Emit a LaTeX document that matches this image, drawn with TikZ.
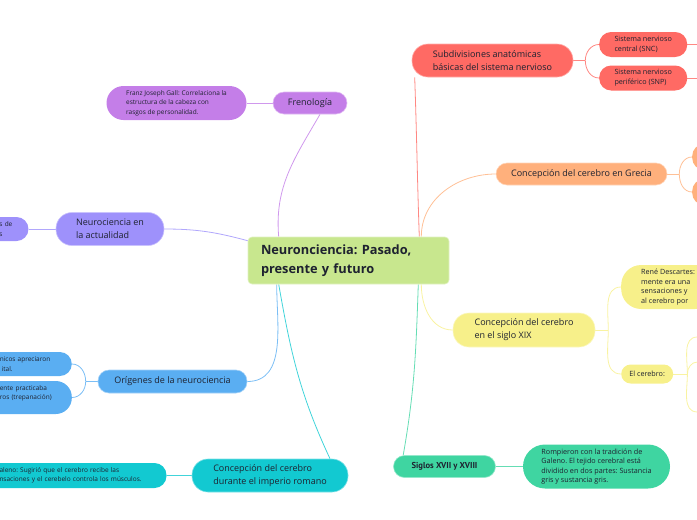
\documentclass[tikz,border=0pt]{standalone}
\usepackage{fontspec}
\setmainfont{Open Sans}
\newfontfamily\sigfont{PT Sans}
\usetikzlibrary{positioning, backgrounds}

\definecolor{ink}{HTML}{1E2230}
\definecolor{ctrgreen}{HTML}{C8E78E}
\definecolor{purp}{HTML}{C47EE8}
\definecolor{peri}{HTML}{9E91FB}
\definecolor{skyblue}{HTML}{5AAEF2}
\definecolor{romcyan}{HTML}{12C9D1}
\definecolor{coral}{HTML}{FF6A64}
\definecolor{peach}{HTML}{FFB07C}
\definecolor{lemon}{HTML}{F7F08A}
\definecolor{mint}{HTML}{3FD5A1}

\begin{document}
\begin{tikzpicture}[x=1pt, y=1pt,
  topic/.style={fill=#1, draw=#1!55!white, line width=0.6pt, rounded corners=11pt, inner sep=0pt,
    minimum height=22pt, align=left, text=ink, font=\fontsize{9}{12.8}\selectfont\frenchspacing},
  topictwo/.style={topic=#1, rounded corners=16pt, minimum height=33pt},
  leaf/.style={fill=#1, rounded corners=12pt, inner sep=0pt, align=left, text=ink,
    font=\fontsize{6.5}{9.5}\selectfont\frenchspacing},
  bigleaf/.style={leaf=#1, font=\fontsize{7.2}{9.6}\selectfont\frenchspacing},
  link/.style={draw=#1!80!white, line width=0.8pt}
]
  \useasboundingbox (0,-520) rectangle (697,0);

  \node[topic=ctrgreen, rounded corners=4pt, minimum width=201pt, minimum height=47pt,
    inner xsep=13pt, text width=175pt, font=\fontsize{12.8}{19}\selectfont\bfseries\frenchspacing] (ctr) at (348.5,-260.5)
    {Neuronciencia: Pasado,\\presente y futuro};

  \node[topic=purp, minimum width=74pt] (fren) at (310,-103) {Frenología};
  \node[leaf=purp, left=26pt of fren, minimum width=140pt, minimum height=34pt, rounded corners=17pt] (gall)
    {Franz Joseph Gall: Correlaciona la\\estructura de la cabeza con\\rasgos de personalidad.};

  \node[topictwo=peri, minimum width=108pt] (act) at (110,-229) {Neurociencia en\\la actualidad};
  \node[leaf=peri, left=27pt of act, inner xsep=8pt, text width=73pt, minimum height=24pt] (actx)
    {\hspace*{52pt}s de\\\hspace*{52pt}s};

  \node[topic=skyblue, minimum width=149pt, minimum height=23pt] (orig) at (172.5,-381.5) {Orígenes de la neurociencia};
  \node[leaf=skyblue, anchor=east, inner xsep=8pt, text width=130pt, minimum height=24pt] (oa) at (72,-364)
    {\hspace*{66pt}nicos apreciaron\\\hspace*{68pt}ital.};
  \node[leaf=skyblue, anchor=east, inner xsep=8pt, text width=130pt, minimum height=33pt, rounded corners=16pt] (ob) at (72,-397.5)
    {\hspace*{66pt}ente practicaba\\\hspace*{66pt}ros (trepanación)\\\mbox{}};

  \node[topictwo=romcyan, minimum width=156pt] (rom) at (270,-475.5) {Concepción del cerebro\\durante el imperio romano};
  \node[leaf=romcyan, left=25pt of rom, inner xsep=8pt, text width=200pt, minimum height=25pt] (romx)
    {\hspace*{41pt}aleno: Sugirió que el cerebro recibe las\\\hspace*{41pt}nsaciones y el cerebelo controla los músculos.};

  \node[topictwo=coral, minimum width=161pt] (subd) at (492.5,-60.5) {Subdivisiones anatómicas\\básicas del sistema nervioso};
  \node[bigleaf=coral, anchor=west, minimum width=88pt, minimum height=25pt] (snc) at (599,-44.5) {Sistema nervioso\\central (SNC)};
  \node[bigleaf=coral, anchor=west, minimum width=88pt, minimum height=25pt] (snp) at (599,-78) {Sistema nervioso\\periférico (SNP)};

  \node[topic=peach, minimum width=171pt] (grec) at (581.5,-174) {Concepción del cerebro en Grecia};
  \node[leaf=peach, anchor=west, minimum width=40pt, minimum height=26pt] (ga) at (692,-157) {};
  \node[leaf=peach, anchor=west, minimum width=40pt, minimum height=26pt] (gb) at (692,-192) {};

  \node[topictwo=lemon, minimum width=142pt, minimum height=34pt] (xix) at (524,-330) {Concepción del cerebro\\en el siglo XIX};
  \node[bigleaf=lemon, anchor=west, inner xsep=20pt, minimum height=44pt, rounded corners=20pt] (desc) at (621,-287)
    {René Descartes:\\mente era una\\sensaciones y\\al cerebro por};
  \node[bigleaf=lemon, anchor=west, minimum width=52pt, minimum height=19pt, rounded corners=9.5pt] (cer) at (621,-374) {El cerebro:};

  \node[topic=mint, minimum width=102pt, font=\sigfont\fontsize{8.6}{10}\selectfont\bfseries] (sig) at (444.5,-466.5) {Siglos XVII y XVIII};
  \node[bigleaf=mint, right=27pt of sig, minimum width=147pt, minimum height=44pt, rounded corners=22pt] (sigx)
    {Rompieron con la tradición de\\Galeno. El tejido cerebral está\\dividido en dos partes: Sustancia\\gris y sustancia gris.};

  \begin{scope}[on background layer]
    \draw[link=purp] ([xshift=31pt]ctr.north west) to[out=95,in=-120] ([xshift=10pt]fren.south);
    \draw[link=purp] (fren) -- (gall);
    \draw[link=peri] ([yshift=-4pt]ctr.north west) to[out=165,in=0] (act.east);
    \draw[link=peri] (act) -- (actx);
    \draw[link=skyblue] ([xshift=29pt]ctr.south west) to[out=-90,in=0] (orig.east);
    \draw[link=skyblue] (orig.west) -- ++(-12,0) coordinate (origfork);
    \draw[link=skyblue] (origfork) to[out=90,in=0] (oa.east);
    \draw[link=skyblue] (origfork) to[out=-90,in=0] (ob.east);
    \draw[link=romcyan] ([xshift=31pt]ctr.south west) to[out=-80,in=115] ([xshift=60pt]rom.north);
    \draw[link=romcyan] (rom) -- (romx);

    \draw[link=coral] ([xshift=-30pt]ctr.north east) to[out=92,in=-88] ([xshift=3pt]subd.south west);
    \draw[link=coral] (subd.east) -- ++(12,0) coordinate (subdfork);
    \draw[link=coral] (subdfork) to[out=90,in=180] (snc.west);
    \draw[link=coral] (subdfork) to[out=-90,in=180] (snp.west);
    \draw[link=coral] (snc.east) -- ++(12,0);
    \draw[link=coral] (snp.east) -- ++(12,0);
    \draw[link=peach] ([xshift=-28pt]ctr.north east) to[out=90,in=180] (grec.west);
    \draw[link=peach] (grec.east) -- ++(12,0) coordinate (grecfork);
    \draw[link=peach] (grecfork) to[out=90,in=180] (ga.west);
    \draw[link=peach] (grecfork) to[out=-90,in=180] (gb.west);
    \draw[link=lemon] ([xshift=-28pt]ctr.south east) to[out=-90,in=180] (xix.west);
    \draw[link=lemon] (xix.east) -- ++(13,0) coordinate (xixfork);
    \draw[link=lemon] (xixfork) to[out=90,in=180] (desc.west);
    \draw[link=lemon] (xixfork) to[out=-90,in=180] (cer.west);
    \draw[link=lemon] (cer.east) -- ++(14,0) coordinate (cerfork);
    \draw[link=lemon] (cerfork) to[out=90,in=180] ++(10,37);
    \draw[link=lemon] (cerfork) to[out=90,in=180] ++(10,12);
    \draw[link=lemon] (cerfork) to[out=-90,in=180] ++(10,-38);
    \draw[link=mint] ([xshift=-31pt]ctr.south east) to[out=-92,in=80] ([xshift=10pt]sig.north west);
    \draw[link=mint] (sig) -- (sigx);
  \end{scope}
\end{tikzpicture}
\end{document}
